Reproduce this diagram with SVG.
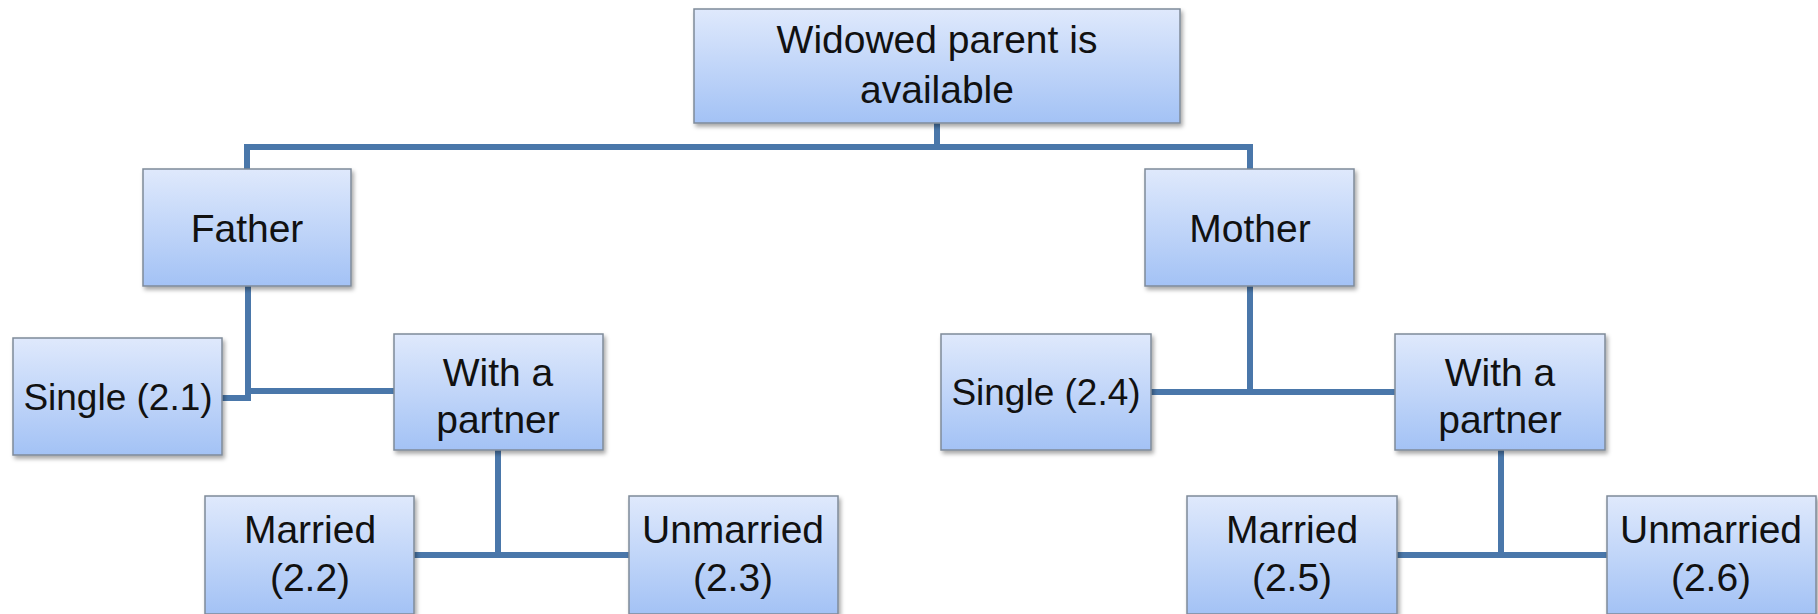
<svg xmlns="http://www.w3.org/2000/svg" width="1818" height="614" viewBox="0 0 1818 614">
  <defs>
    <linearGradient id="boxFill" x1="0" y1="0" x2="0" y2="1">
      <stop offset="0" stop-color="#dfe9fc"/>
      <stop offset="1" stop-color="#a3c2f5"/>
    </linearGradient>
    <filter id="shadow" x="-10%" y="-10%" width="125%" height="130%">
      <feDropShadow dx="2" dy="3" stdDeviation="2" flood-color="#000" flood-opacity="0.35"/>
    </filter>
  </defs>
  <style>
    .box { fill: url(#boxFill); stroke: #7f8a99; stroke-width: 1.5; filter: url(#shadow); }
    .lbl { font-family: "Liberation Sans", Arial, sans-serif; font-size: 39px; fill: #111111; text-anchor: middle; }
    .narrow { font-size: 37px; }
    .link { fill: none; stroke: #4a77aa; stroke-width: 6; stroke-linejoin: miter; stroke-linecap: butt; }
  </style>
  <rect width="1818" height="614" fill="#ffffff"/>

  <!-- connectors -->
  <g id="connectors">
    <path class="link" d="M937,123 V147"/>
    <path class="link" d="M247,169 V147 H1250 V169"/>
    <path class="link" d="M222,398 H248 V286"/>
    <path class="link" d="M248,391 H394"/>
    <path class="link" d="M498,450 V555"/>
    <path class="link" d="M414,555 H629"/>
    <path class="link" d="M1250,286 V392"/>
    <path class="link" d="M1151,392 H1395"/>
    <path class="link" d="M1501,450 V555"/>
    <path class="link" d="M1397,555 H1607"/>
  </g>

  <!-- nodes -->
  <g id="root">
    <rect class="box" x="694" y="9" width="486" height="114"/>
    <text class="lbl" x="937" y="53">Widowed parent is</text>
    <text class="lbl" x="937" y="103">available</text>
  </g>
  <g id="father">
    <rect class="box" x="143" y="169" width="208" height="117"/>
    <text class="lbl" x="247" y="242">Father</text>
  </g>
  <g id="mother">
    <rect class="box" x="1145" y="169" width="209" height="117"/>
    <text class="lbl" x="1250" y="242">Mother</text>
  </g>
  <g id="single-2-1">
    <rect class="box" x="13" y="338" width="209" height="117"/>
    <text class="lbl narrow" x="118" y="410">Single (2.1)</text>
  </g>
  <g id="partner-left">
    <rect class="box" x="394" y="334" width="209" height="116"/>
    <text class="lbl" x="498" y="386">With a</text>
    <text class="lbl" x="498" y="433">partner</text>
  </g>
  <g id="married-2-2">
    <rect class="box" x="205" y="496" width="209" height="118"/>
    <text class="lbl" x="310" y="543">Married</text>
    <text class="lbl" x="310" y="591">(2.2)</text>
  </g>
  <g id="unmarried-2-3">
    <rect class="box" x="629" y="496" width="209" height="118"/>
    <text class="lbl" x="733" y="543">Unmarried</text>
    <text class="lbl" x="733" y="591">(2.3)</text>
  </g>
  <g id="single-2-4">
    <rect class="box" x="941" y="334" width="210" height="116"/>
    <text class="lbl narrow" x="1046" y="405">Single (2.4)</text>
  </g>
  <g id="partner-right">
    <rect class="box" x="1395" y="334" width="210" height="116"/>
    <text class="lbl" x="1500" y="386">With a</text>
    <text class="lbl" x="1500" y="433">partner</text>
  </g>
  <g id="married-2-5">
    <rect class="box" x="1187" y="496" width="210" height="118"/>
    <text class="lbl" x="1292" y="543">Married</text>
    <text class="lbl" x="1292" y="591">(2.5)</text>
  </g>
  <g id="unmarried-2-6">
    <rect class="box" x="1607" y="496" width="209" height="118"/>
    <text class="lbl" x="1711" y="543">Unmarried</text>
    <text class="lbl" x="1711" y="591">(2.6)</text>
  </g>
</svg>
